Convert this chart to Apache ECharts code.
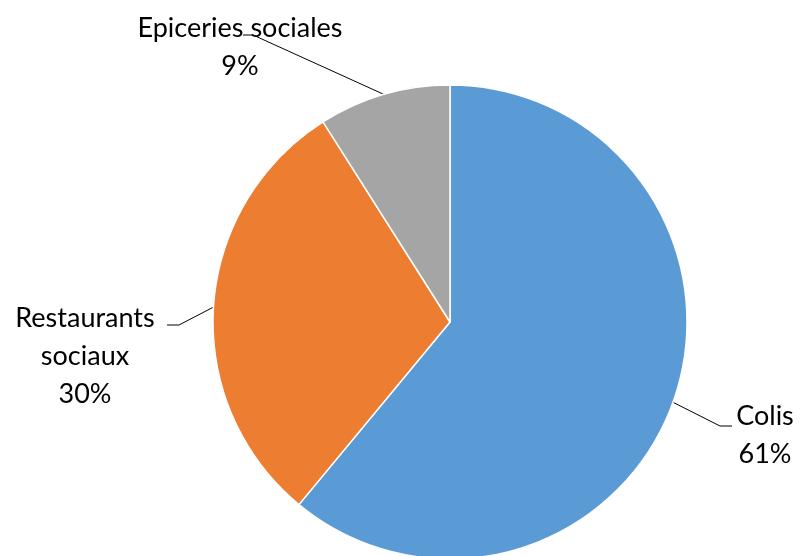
<!DOCTYPE html>
<html>
<head>
<meta charset="utf-8">
<script src="https://cdn.jsdelivr.net/npm/echarts@6/dist/echarts.min.js"></script>
<style>
  html, body { margin: 0; padding: 0; background: #fff; }
  #chart { width: 800px; height: 556px; }
</style>
</head>
<body>
<div id="chart"></div>
<script>
// data
const categories = ['Colis', 'Restaurants\nsociaux', 'Epiceries sociales']
const values = [61, 30, 9]
const colors = ['#5B9BD5', '#ED7D31', '#A5A5A5']
// label centre, then elbow and end of its leader line
const labelSpots = [[765, 435], [85, 356], [240, 47]]
const lineElbows = [[720, 426], [179, 325], [253, 35]]
const lineEnds = [[732, 426], [167, 325], [243, 35]]

const chart = echarts.init(document.getElementById('chart'))
const option = {
  animation: false,
  series: [
    {
      type: 'pie',
      center: [450, 322],
      radius: 237,
      startAngle: 90,
      clockwise: true,
      itemStyle: {
        borderColor: '#fff',
        borderWidth: 1.5
      },
      label: {
        show: true,
        formatter: '{b}\n{d}%',
        fontFamily: 'Lato',
        fontSize: 27,
        lineHeight: 38,
        color: '#000',
        align: 'center'
      },
      labelLine: {
        show: true,
        length: 20,
        length2: 10,
        lineStyle: { color: '#000', width: 1 }
      },
      labelLayout: function (params) {
        const i = params.dataIndex
        const p = labelSpots[i]
        const start = params.labelLinePoints ? params.labelLinePoints[0] : null
        const out = {
          x: p[0],
          y: p[1],
          align: 'center',
          verticalAlign: 'middle'
        }
        if (start) out.labelLinePoints = [start, lineElbows[i], lineEnds[i]]
        return out
      },
      data: categories.map((name, i) => ({
        name: name,
        value: values[i],
        itemStyle: { color: colors[i] }
      }))
    }
  ]
}
chart.setOption(option)
</script>
</body>
</html>
